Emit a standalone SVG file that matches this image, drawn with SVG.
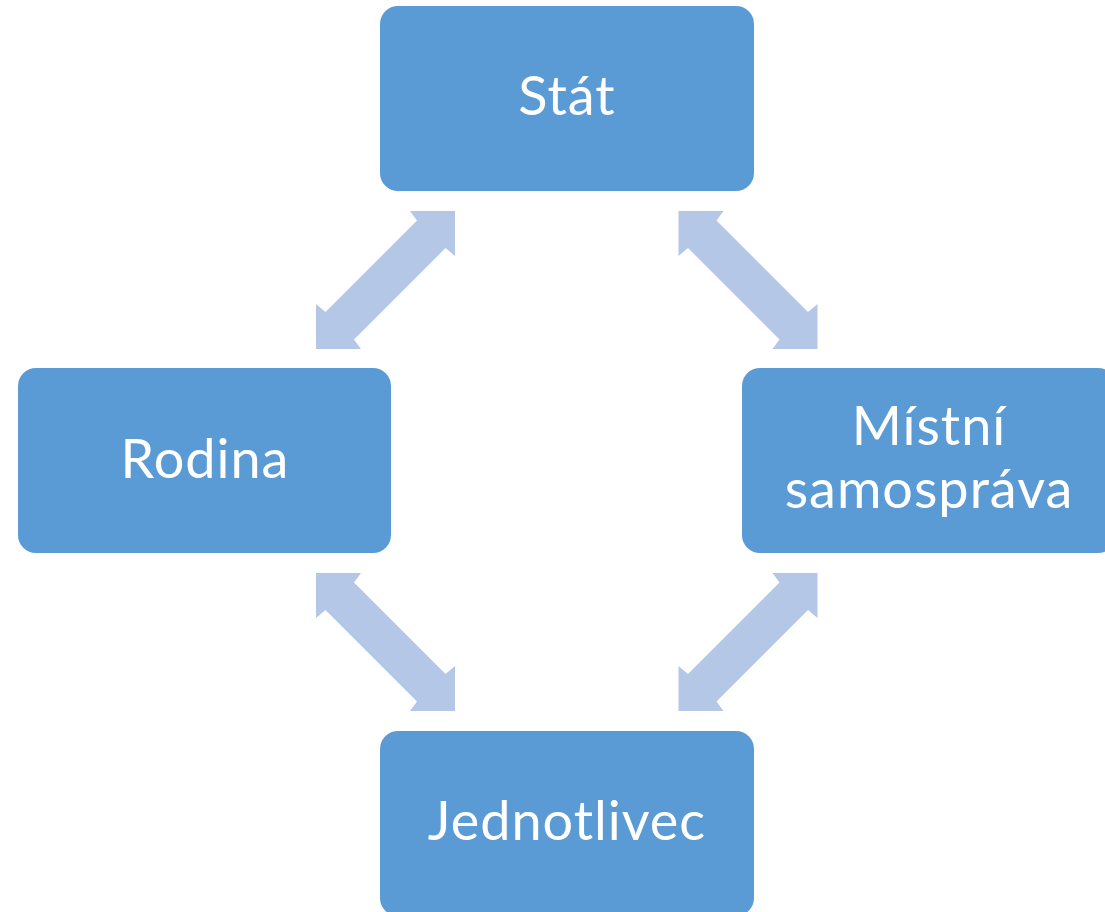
<svg xmlns="http://www.w3.org/2000/svg" xmlns:xlink="http://www.w3.org/1999/xlink" width="1105" height="912" viewBox="0 0 1105 912">
  <style>
    .box { fill: #5B9BD5; }
    .lbl { fill: #FFFFFF; font-family: Lato, "Open Sans", "Liberation Sans", sans-serif; font-size: 54px; letter-spacing: 1px; text-anchor: middle; }
    .arr { fill: #B4C7E7; }
  </style>
  <defs>
    <path id="dblarrow" d="M139,0 L94,0 L101,9.5 L9.5,101 L0,93 L0,138 L45,138 L38,128.5 L129.5,37 L139,45 Z"/>
  </defs>
  <rect width="1105" height="912" fill="#FFFFFF"/>
  <g id="connectors" class="arr">
    <use xlink:href="#dblarrow" transform="translate(316,211)"/>
    <use xlink:href="#dblarrow" transform="translate(817.5,211) scale(-1,1)"/>
    <use xlink:href="#dblarrow" transform="translate(455,573) scale(-1,1)"/>
    <use xlink:href="#dblarrow" transform="translate(678.5,573)"/>
  </g>
  <g id="node-stat">
    <rect class="box" x="380" y="6" width="374" height="185" rx="18"/>
    <text class="lbl" x="567" y="115">Stát</text>
  </g>
  <g id="node-rodina">
    <rect class="box" x="18" y="368" width="373" height="185" rx="18"/>
    <text class="lbl" x="205" y="478">Rodina</text>
  </g>
  <g id="node-mistni">
    <rect class="box" x="742" y="368" width="374" height="185" rx="18"/>
    <text class="lbl" x="929" y="445">Místní</text>
    <text class="lbl" x="929" y="508">samospráva</text>
  </g>
  <g id="node-jednotlivec">
    <rect class="box" x="380" y="731" width="374" height="185" rx="18"/>
    <text class="lbl" x="567" y="840">Jednotlivec</text>
  </g>
</svg>
